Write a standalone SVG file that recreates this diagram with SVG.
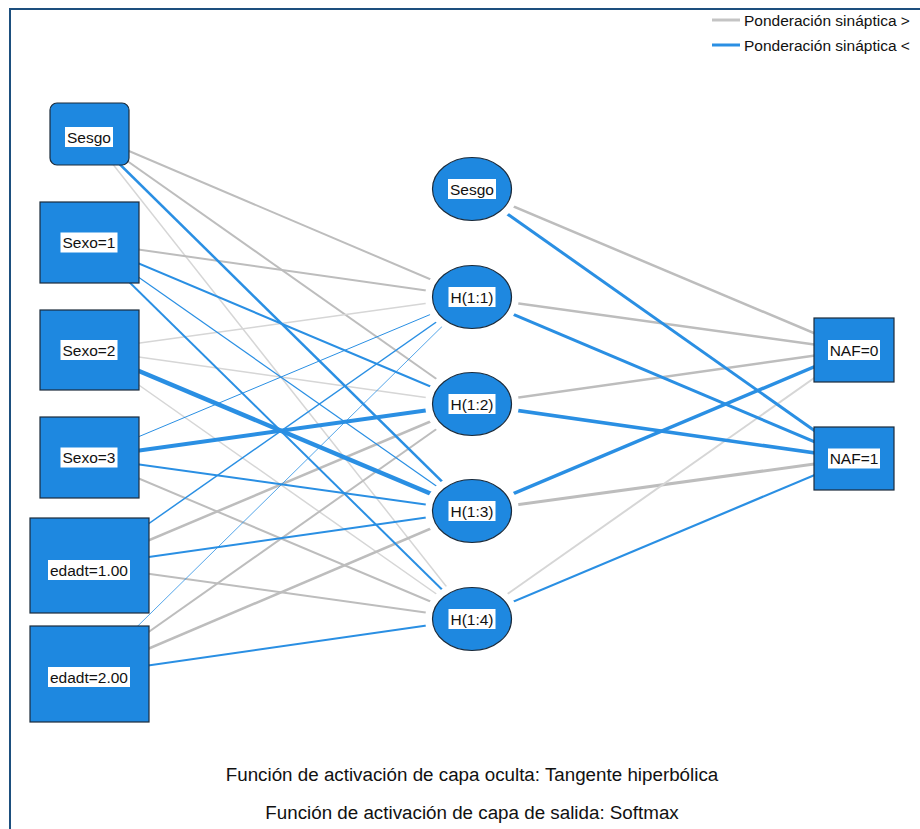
<svg xmlns="http://www.w3.org/2000/svg" width="920" height="829" viewBox="0 0 920 829">
<style>
.bg{fill:#ffffff}
.frame{fill:none;stroke:#1d4f7e;stroke-width:2}
.node{fill:#1e88e0;stroke:#1b2b3b;stroke-width:1.2}
.halo{fill:#ffffff}
.lbox{fill:#ffffff}
.lbl{font-family:"Liberation Sans",Arial,sans-serif;font-size:15.5px;fill:#111111;text-anchor:middle}
.leg{font-family:"Liberation Sans",Arial,sans-serif;font-size:15.5px;fill:#111111}
.foot{font-family:"Liberation Sans",Arial,sans-serif;font-size:18.8px;fill:#111111;text-anchor:middle}
.b{stroke:#2a8fe3;fill:none;stroke-linecap:butt}
.g{stroke:#bdbdbd;fill:none}
.gl{stroke:#d6d6d6;fill:none}
</style>
<rect class="bg" x="0" y="0" width="920" height="829"/>
<rect class="frame" x="10" y="9" width="920" height="830"/>

<g id="legend">
  <line x1="712" y1="20" x2="740" y2="20" stroke="#c4c4c4" stroke-width="3"/>
  <text class="leg" x="744" y="25.5">Ponderación sináptica &gt;</text>
  <line x1="712" y1="45" x2="740" y2="45" stroke="#2a8fe3" stroke-width="3"/>
  <text class="leg" x="744" y="50.5">Ponderación sináptica &lt;</text>
</g>

<g id="connectors">
  <!-- input -> hidden -->
  <line class="g" stroke-width="2" x1="89" y1="134" x2="472" y2="297"/>
  <line class="g" stroke-width="2" x1="89" y1="134" x2="472" y2="404"/>
  <line class="gl" stroke-width="1.5" x1="89" y1="134" x2="472" y2="619"/>
  <line class="g" stroke-width="2" x1="89" y1="242.5" x2="472" y2="297"/>
  <line class="gl" stroke-width="1.5" x1="89" y1="350" x2="472" y2="297"/>
  <line class="gl" stroke-width="1.5" x1="89" y1="350" x2="472" y2="404"/>
  <line class="gl" stroke-width="1.5" x1="89" y1="350" x2="472" y2="619"/>
  <line class="g" stroke-width="2" x1="89" y1="457.5" x2="472" y2="619"/>
  <line class="g" stroke-width="2.5" x1="89" y1="565.5" x2="472" y2="404"/>
  <line class="g" stroke-width="2" x1="89" y1="565.5" x2="472" y2="619"/>
  <line class="g" stroke-width="2" x1="89" y1="674" x2="472" y2="404"/>
  <line class="g" stroke-width="2.5" x1="89" y1="674" x2="472" y2="511"/>

  <line class="b" stroke-width="2.5" x1="89" y1="134" x2="472" y2="511"/>
  <line class="b" stroke-width="2" x1="89" y1="242.5" x2="472" y2="404"/>
  <line class="b" stroke-width="1.2" x1="89" y1="242.5" x2="472" y2="511"/>
  <line class="b" stroke-width="2" x1="89" y1="242.5" x2="472" y2="619"/>
  <line class="b" stroke-width="4.5" x1="89" y1="350" x2="472" y2="511"/>
  <line class="b" stroke-width="1" x1="89" y1="457.5" x2="472" y2="297"/>
  <line class="b" stroke-width="4" x1="89" y1="457.5" x2="472" y2="404"/>
  <line class="b" stroke-width="2" x1="89" y1="457.5" x2="472" y2="511"/>
  <line class="b" stroke-width="1.5" x1="89" y1="565.5" x2="472" y2="297"/>
  <line class="b" stroke-width="1.8" x1="89" y1="565.5" x2="472" y2="511"/>
  <line class="b" stroke-width="0.8" x1="89" y1="674" x2="472" y2="297"/>
  <line class="b" stroke-width="2" x1="89" y1="674" x2="472" y2="619"/>

  <!-- hidden -> output -->
  <line class="g" stroke-width="2.5" x1="472" y1="189" x2="854" y2="350"/>
  <line class="g" stroke-width="2.5" x1="472" y1="297" x2="854" y2="350"/>
  <line class="g" stroke-width="2.5" x1="472" y1="404" x2="854" y2="350"/>
  <line class="g" stroke-width="3" x1="472" y1="511" x2="854" y2="458.5"/>
  <line class="gl" stroke-width="2" x1="472" y1="619" x2="854" y2="350"/>
  <line class="b" stroke-width="3" x1="472" y1="189" x2="854" y2="458.5"/>
  <line class="b" stroke-width="3" x1="472" y1="297" x2="854" y2="458.5"/>
  <line class="b" stroke-width="3.5" x1="472" y1="404" x2="854" y2="458.5"/>
  <line class="b" stroke-width="3.5" x1="472" y1="511" x2="854" y2="350"/>
  <line class="b" stroke-width="2.2" x1="472" y1="619" x2="854" y2="458.5"/>
</g>

<!-- input layer -->
<g id="in_sesgo">
  <rect class="node" x="50" y="103" width="79" height="62" rx="7"/>
  <rect class="lbox" x="65" y="127" width="48" height="20"/>
  <text class="lbl" x="89" y="142.5">Sesgo</text>
</g>
<g id="in_sexo1">
  <rect class="node" x="40" y="202" width="99" height="81"/>
  <rect class="lbox" x="60.5" y="232.5" width="57" height="20"/>
  <text class="lbl" x="89" y="248">Sexo=1</text>
</g>
<g id="in_sexo2">
  <rect class="node" x="40" y="310" width="99" height="80"/>
  <rect class="lbox" x="60.5" y="340" width="57" height="20"/>
  <text class="lbl" x="89" y="355.5">Sexo=2</text>
</g>
<g id="in_sexo3">
  <rect class="node" x="40" y="417" width="99" height="81"/>
  <rect class="lbox" x="60.5" y="447.5" width="57" height="20"/>
  <text class="lbl" x="89" y="463">Sexo=3</text>
</g>
<g id="in_edadt1">
  <rect class="node" x="30" y="518" width="119" height="95"/>
  <rect class="lbox" x="48" y="560" width="82" height="20"/>
  <text class="lbl" x="89" y="575.5">edadt=1.00</text>
</g>
<g id="in_edadt2">
  <rect class="node" x="30" y="626" width="119" height="96"/>
  <rect class="lbox" x="48" y="667" width="82" height="20"/>
  <text class="lbl" x="89" y="682.5">edadt=2.00</text>
</g>

<!-- hidden layer -->
<g id="hid_sesgo">
  <ellipse class="halo" cx="472" cy="189" rx="47" ry="39"/>
  <ellipse class="node" cx="472" cy="189" rx="39.5" ry="31.5"/>
  <rect class="lbox" x="448" y="179" width="48" height="20"/>
  <text class="lbl" x="472" y="194.5">Sesgo</text>
</g>
<g id="hid_h1">
  <ellipse class="halo" cx="472" cy="297" rx="47" ry="39"/>
  <ellipse class="node" cx="472" cy="297" rx="39.5" ry="31.5"/>
  <rect class="lbox" x="448.5" y="287" width="47" height="20"/>
  <text class="lbl" x="472" y="302.5">H(1:1)</text>
</g>
<g id="hid_h2">
  <ellipse class="halo" cx="472" cy="404" rx="47" ry="39"/>
  <ellipse class="node" cx="472" cy="404" rx="39.5" ry="31.5"/>
  <rect class="lbox" x="448.5" y="394" width="47" height="20"/>
  <text class="lbl" x="472" y="409.5">H(1:2)</text>
</g>
<g id="hid_h3">
  <ellipse class="halo" cx="472" cy="511" rx="47" ry="39"/>
  <ellipse class="node" cx="472" cy="511" rx="39.5" ry="31.5"/>
  <rect class="lbox" x="448.5" y="501" width="47" height="20"/>
  <text class="lbl" x="472" y="516.5">H(1:3)</text>
</g>
<g id="hid_h4">
  <ellipse class="halo" cx="472" cy="619" rx="47" ry="39"/>
  <ellipse class="node" cx="472" cy="619" rx="39.5" ry="31.5"/>
  <rect class="lbox" x="448.5" y="609" width="47" height="20"/>
  <text class="lbl" x="472" y="624.5">H(1:4)</text>
</g>

<!-- output layer -->
<g id="out_naf0">
  <rect class="node" x="814" y="318" width="80" height="64"/>
  <rect class="lbox" x="828" y="340" width="52" height="20"/>
  <text class="lbl" x="854" y="355.5">NAF=0</text>
</g>
<g id="out_naf1">
  <rect class="node" x="814" y="427" width="80" height="63"/>
  <rect class="lbox" x="828" y="448.5" width="52" height="20"/>
  <text class="lbl" x="854" y="464">NAF=1</text>
</g>

<g id="footer">
  <text class="foot" x="472" y="781">Función de activación de capa oculta: Tangente hiperbólica</text>
  <text class="foot" x="472" y="819">Función de activación de capa de salida: Softmax</text>
</g>
</svg>
